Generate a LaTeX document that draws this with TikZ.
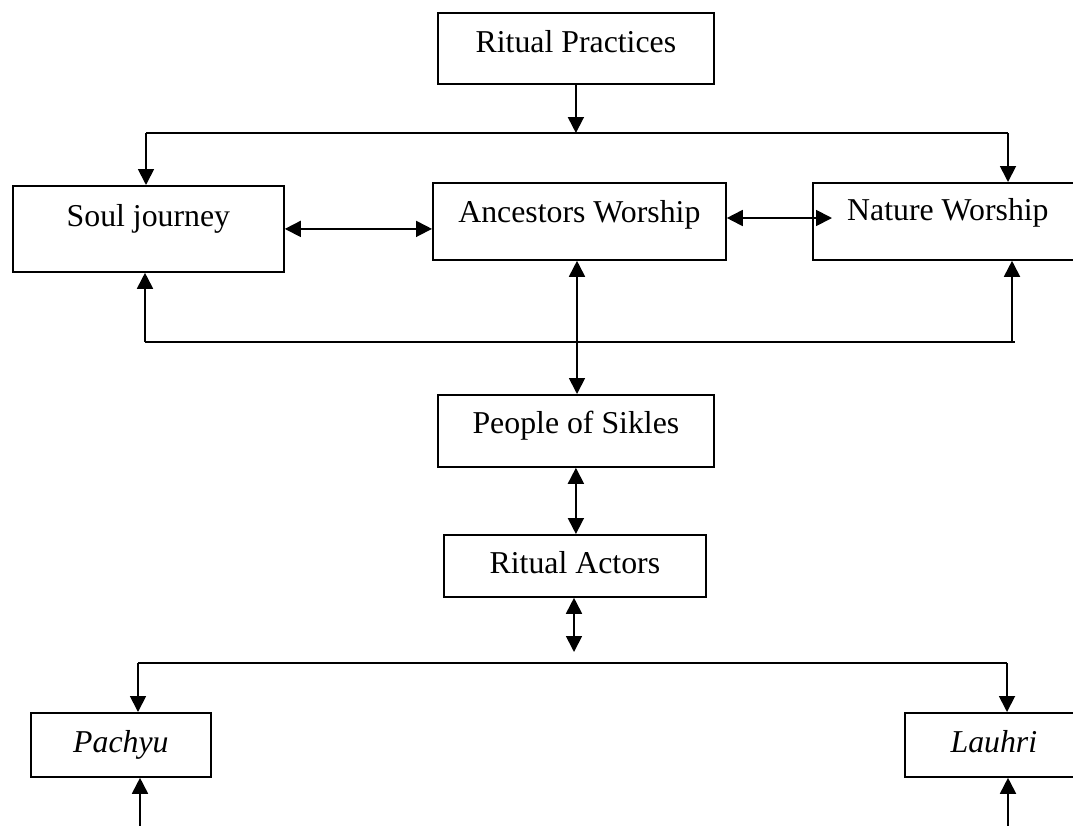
\documentclass[tikz,border=0pt]{standalone}
\usepackage{fontspec}
\setmainfont{Liberation Serif}
\usepackage{tikz}
\usetikzlibrary{arrows.meta, positioning, calc}

\begin{document}
\begin{tikzpicture}[x=1pt, y=-1pt,
  box/.style={draw, rectangle, line width=1.8pt, inner sep=0pt, anchor=north west,
              font=\fontsize{31.8}{38}\selectfont},
  link/.style={line width=1.8pt},
  onearrow/.style={link, -{Triangle[length=16pt,width=16pt]}},
  twoarrow/.style={link, {Triangle[length=16pt,width=16pt]}-{Triangle[length=16pt,width=16pt]}}]
\useasboundingbox (0,0) rectangle (1073,825);
\clip (0,0) rectangle (1073,825);

\node[box, minimum width=276pt, text height=40pt, text depth=31pt] (prac) at (437,12) {Ritual Practices};
\node[box, minimum width=271pt, text height=41pt, text depth=45pt] (soul) at (12,185) {Soul journey};
\node[box, minimum width=293pt, text height=40pt, text depth=37pt] (anc) at (432,182) {Ancestors Worship};
\node[box, minimum width=270pt, text height=38pt, text depth=39pt] (nat) at (812,182) {Nature Worship};
\node[box, minimum width=276pt, text height=39pt, text depth=33pt] (people) at (437,394) {People of Sikles};
\node[box, minimum width=262pt, text height=39pt, text depth=23pt] (actors) at (443,534) {Ritual Actors};
\node[box, minimum width=180pt, text height=40pt, text depth=24pt] (pachyu) at (30,712) {\itshape Pachyu};
\node[box, minimum width=178pt, text height=40pt, text depth=24pt] (lauhri) at (904,712) {\itshape Lauhri};

% upper split
\coordinate (topmid) at (575,133);
\coordinate (topl) at (146,133);
\coordinate (topr) at (1008,133);
\draw[onearrow] (prac.south) -- (prac.south |- topmid);
\draw[link] (topl) -- (topr);
\foreach \c/\n in {topl/soul, topr/nat}
  \draw[onearrow] (\c) -- (\c |- \n.north);

\draw[twoarrow] (anc.east |- 0,218) -- ([xshift=20pt]nat.west |- 0,218);
\draw[twoarrow] (soul.east) -- (soul.east -| anc.west);

% feedback line
\coordinate (backl) at (145,342);
\coordinate (backr) at (1012,342);
\draw[link] (backl) -- ([xshift=3pt]backr);
\foreach \c/\n in {backl/soul, backr/nat}
  \draw[onearrow] (\c) -- (\c |- \n.south);

\draw[twoarrow] (anc.south -| 577,0) -- (people.north -| 577,0);
\draw[twoarrow] (people.south) -- (people.south |- actors.north);

% lower split
\coordinate (lowmid) at (574,663);
\coordinate (lowl) at (138,663);
\coordinate (lowr) at (1007,663);
\draw[twoarrow] (actors.south -| lowmid) -- ([yshift=11pt]lowmid);
\draw[link] (lowl) -- (lowr);
\foreach \c/\n in {lowl/pachyu, lowr/lauhri}
  \draw[onearrow] (\c) -- (\c |- \n.north);

\coordinate (footl) at (140,826);
\coordinate (footr) at (1008,826);
\foreach \c/\n in {footl/pachyu, footr/lauhri}
  \draw[onearrow] (\c) -- (\c |- \n.south);
\end{tikzpicture}
\end{document}
